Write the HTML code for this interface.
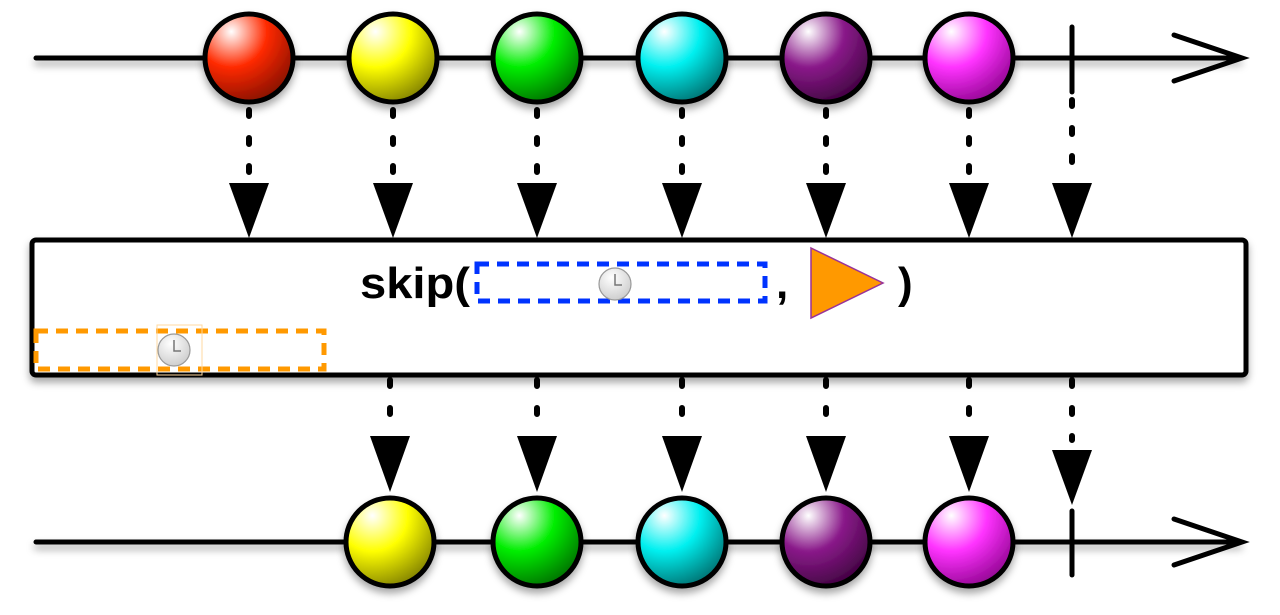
<!DOCTYPE html>
<html><head><style>body{margin:0;background:#fff}</style></head><body>
<svg width="1280" height="610" viewBox="0 0 1280 610" xmlns="http://www.w3.org/2000/svg">
<defs>
<filter id="sh" x="-20%" y="-20%" width="140%" height="160%"><feDropShadow dx="0" dy="5" stdDeviation="4" flood-color="#000" flood-opacity="0.35"/></filter>
<filter id="shl" filterUnits="userSpaceOnUse" x="0" y="0" width="1280" height="610"><feDropShadow dx="0" dy="5" stdDeviation="4" flood-color="#000" flood-opacity="0.35"/></filter>
<radialGradient id="gr" cx="0.3" cy="0.2" r="0.9"><stop offset="0" stop-color="#fff"/><stop offset="0.45" stop-color="#ff2a00"/><stop offset="1" stop-color="#7a0d00"/></radialGradient>
<radialGradient id="gy" cx="0.3" cy="0.2" r="0.9"><stop offset="0" stop-color="#fff"/><stop offset="0.45" stop-color="#ffff00"/><stop offset="1" stop-color="#777700"/></radialGradient>
<radialGradient id="gg" cx="0.3" cy="0.2" r="0.9"><stop offset="0" stop-color="#fff"/><stop offset="0.45" stop-color="#00ee00"/><stop offset="1" stop-color="#006600"/></radialGradient>
<radialGradient id="gc" cx="0.3" cy="0.2" r="0.9"><stop offset="0" stop-color="#fff"/><stop offset="0.45" stop-color="#00f0f0"/><stop offset="1" stop-color="#006666"/></radialGradient>
<radialGradient id="gp" cx="0.3" cy="0.2" r="0.9"><stop offset="0" stop-color="#fff"/><stop offset="0.45" stop-color="#8a1a8a"/><stop offset="1" stop-color="#3a003a"/></radialGradient>
<radialGradient id="gm" cx="0.3" cy="0.2" r="0.9"><stop offset="0" stop-color="#fff"/><stop offset="0.45" stop-color="#ff33ff"/><stop offset="1" stop-color="#880088"/></radialGradient>
<radialGradient id="clk" cx="0.4" cy="0.3" r="0.8"><stop offset="0" stop-color="#fff"/><stop offset="1" stop-color="#c8c8c8"/></radialGradient>
<g id="clock"><circle r="16" fill="url(#clk)" stroke="#999" stroke-width="1.2"/><path d="M0,-10 V1 H7" stroke="#777" stroke-width="1.5" fill="none"/></g>
</defs>
<g stroke="#000" stroke-width="5" stroke-linecap="round" fill="none">
<line x1="36" y1="58" x2="1240" y2="58" filter="url(#shl)"/>
<polyline points="1174,35 1242,58 1174,81"/>
<line x1="1072" y1="27" x2="1072" y2="92"/>
<line x1="36" y1="542" x2="1240" y2="542" filter="url(#shl)"/>
<polyline points="1174,519 1242,542 1174,565"/>
<line x1="1072" y1="511" x2="1072" y2="575"/>
</g>
<g stroke="#000" stroke-width="5" filter="url(#sh)">
<circle cx="249" cy="58" r="44" fill="url(#gr)"/>
<circle cx="393" cy="58" r="44" fill="url(#gy)"/>
<circle cx="537" cy="58" r="44" fill="url(#gg)"/>
<circle cx="682" cy="58" r="44" fill="url(#gc)"/>
<circle cx="826" cy="58" r="44" fill="url(#gp)"/>
<circle cx="969" cy="58" r="44" fill="url(#gm)"/>
<circle cx="390" cy="542" r="44" fill="url(#gy)"/>
<circle cx="537" cy="542" r="44" fill="url(#gg)"/>
<circle cx="682" cy="542" r="44" fill="url(#gc)"/>
<circle cx="826" cy="542" r="44" fill="url(#gp)"/>
<circle cx="969" cy="542" r="44" fill="url(#gm)"/>
</g>
<g stroke="#000" stroke-width="6" stroke-linecap="round" stroke-dasharray="6 22">
<line x1="249" y1="110" x2="249" y2="180"/><line x1="393" y1="110" x2="393" y2="180"/><line x1="537" y1="110" x2="537" y2="180"/><line x1="682" y1="110" x2="682" y2="180"/><line x1="826" y1="110" x2="826" y2="180"/><line x1="969" y1="110" x2="969" y2="180"/><line x1="1072" y1="100" x2="1072" y2="180"/>
<line x1="390" y1="380" x2="390" y2="430"/><line x1="537" y1="380" x2="537" y2="430"/><line x1="682" y1="380" x2="682" y2="430"/><line x1="826" y1="380" x2="826" y2="430"/><line x1="969" y1="380" x2="969" y2="430"/><line x1="1072" y1="380" x2="1072" y2="440"/>
</g>
<g fill="#000">
<polygon points="229,183 269,183 249,238"/><polygon points="373,183 413,183 393,238"/><polygon points="517,183 557,183 537,238"/><polygon points="662,183 702,183 682,238"/><polygon points="806,183 846,183 826,238"/><polygon points="949,183 989,183 969,238"/><polygon points="1052,183 1092,183 1072,238"/>
<polygon points="370,436 410,436 390,492"/><polygon points="517,436 557,436 537,492"/><polygon points="662,436 702,436 682,492"/><polygon points="806,436 846,436 826,492"/><polygon points="949,436 989,436 969,492"/><polygon points="1052,450 1092,450 1072,505"/>
</g>
<rect x="32" y="240" width="1214" height="135" rx="4" fill="#fff" stroke="#000" stroke-width="5" filter="url(#sh)"/>
<text x="360" y="298" font-family="Liberation Sans, sans-serif" font-weight="bold" font-size="44" textLength="110" lengthAdjust="spacingAndGlyphs">skip(</text>
<rect x="477" y="264" width="288" height="37" fill="none" stroke="#0033ff" stroke-width="5" stroke-dasharray="12 8"/>
<use href="#clock" x="615" y="284"/>
<text x="776" y="298" font-family="Liberation Sans, sans-serif" font-weight="bold" font-size="44">,</text>
<polygon points="811,248 883,283 811,318" fill="#ff9900" stroke="#993399" stroke-width="1.5"/>
<text x="898" y="298" font-family="Liberation Sans, sans-serif" font-weight="bold" font-size="44">)</text>
<rect x="36" y="331" width="288" height="38" fill="none" stroke="#ff9900" stroke-width="5" stroke-dasharray="12 8"/>
<rect x="157" y="325" width="45" height="50" fill="none" stroke="#ffd9a0" stroke-width="1"/>
<use href="#clock" x="174" y="350"/>
</svg>
</body></html>
